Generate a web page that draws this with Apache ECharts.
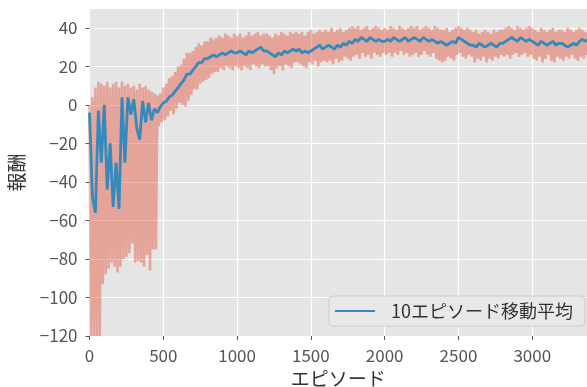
<!DOCTYPE html>
<html><head><meta charset="utf-8">
<script src="https://cdn.jsdelivr.net/npm/echarts@6/dist/echarts.min.js"></script>
<style>html,body{margin:0;padding:0;background:#fff}#c{width:587px;height:387px}</style>
</head><body><div id="c"></div>
<script>
// Episode bin width (each bin: one high and one low raw reward sample)
const STEP = 20;
// Raw reward upper envelope per 20-episode bin (episodes 0..3380)
const rawHigh = [
  0, 4, 9, 12, 11, 10, 12, 9, 11, 12,
  9, 12, 10, 11, 9, 10, 8, 11, 9, 10,
  8, 7, 6, 5, 6, 9, 11, 14, 15, 17,
  20, 21, 24, 27, 27, 28, 30, 32, 31, 33,
  33, 35, 34, 35, 36, 35, 37, 36, 35, 37,
  36, 37, 35, 36, 38, 36, 37, 38, 36, 37,
  37, 36, 35, 37, 36, 38, 37, 36, 38, 37,
  38, 37, 38, 36, 38, 39, 37, 38, 39, 38,
  39, 38, 40, 38, 39, 40, 38, 39, 40, 41,
  40, 41, 39, 40, 41, 39, 40, 41, 40, 39,
  40, 39, 41, 40, 39, 41, 40, 39, 40, 41,
  40, 41, 39, 40, 41, 40, 39, 41, 40, 39,
  39, 40, 38, 39, 40, 41, 40, 39, 40, 39,
  38, 39, 37, 38, 39, 38, 37, 39, 38, 39,
  39, 40, 41, 40, 39, 41, 40, 39, 40, 41,
  40, 39, 38, 40, 39, 38, 39, 40, 38, 39,
  39, 38, 40, 39, 38, 39, 40, 39, 38, 39
];
// Raw reward lower envelope per bin
const rawLow = [
  -120, -120, -120, -120, -93, -88, -85, -82, -84, -87,
  -84, -80, -79, -77, -72, -82, -81, -82, -84, -78,
  -86, -75, -75, -11, -9, -8, -6, -3, -5, -2,
  1, 0, -1, 2, 5, 8, 8, 11, 12, 13,
  14, 16, 17, 17, 19, 18, 20, 19, 18, 20,
  19, 18, 20, 19, 18, 21, 20, 19, 21, 20,
  20, 18, 16, 19, 20, 18, 21, 20, 19, 22,
  22, 21, 20, 19, 22, 21, 23, 20, 22, 23,
  22, 23, 21, 24, 22, 23, 25, 24, 23, 25,
  26, 24, 27, 25, 26, 24, 27, 26, 25, 27,
  26, 27, 25, 27, 26, 28, 26, 27, 25, 26,
  27, 25, 26, 28, 26, 25, 27, 24, 23, 22,
  23, 25, 24, 23, 26, 27, 25, 24, 26, 25,
  22, 24, 23, 25, 22, 24, 23, 25, 24, 26,
  25, 26, 24, 26, 27, 25, 26, 27, 25, 26,
  24, 23, 25, 22, 24, 26, 23, 22, 25, 24,
  23, 25, 24, 26, 24, 23, 25, 24, 26, 25
];
// 10-episode moving average per bin
const movingAvg = [
  -4, -48, -56, -3, -30, 0, -44, -20, -53, -30,
  -54, 4, -30, 4, -5, 3, -12, -18, 2, -9,
  1, -8, -2, -4, -1, 1, 2, 4, 5, 7,
  9, 11, 13, 16, 16, 18, 20, 22, 22, 24,
  24, 25, 26, 25, 26, 27, 26, 27, 28, 27,
  27, 28, 27, 26, 28, 27, 28, 29, 30, 28,
  28, 27, 26, 25, 27, 26, 28, 27, 28, 29,
  28, 29, 27, 28, 27, 28, 29, 30, 31, 29,
  30, 31, 30, 29, 31, 30, 32, 31, 33, 32,
  34, 33, 35, 34, 33, 35, 34, 33, 34, 33,
  33, 34, 33, 35, 34, 33, 34, 35, 33, 34,
  35, 34, 33, 35, 34, 33, 34, 33, 32, 33,
  32, 31, 32, 33, 32, 35, 34, 33, 32, 31,
  31, 30, 32, 31, 30, 31, 32, 31, 30, 32,
  32, 33, 34, 35, 34, 33, 35, 34, 33, 34,
  33, 32, 31, 33, 32, 31, 32, 33, 31, 32,
  32, 31, 30, 31, 32, 31, 33, 34, 33, 34
];
const xTicks = [0, 500, 1000, 1500, 2000, 2500, 3000];
const yTicks = [-120, -100, -80, -60, -40, -20, 0, 20, 40];
const seriesName = '10エピソード移動平均';
const xTitle = 'エピソード';
const yTitle = '報酬';

const rawData = [];
rawHigh.forEach((h, i) => {
  rawData.push([i * STEP, h]);
  rawData.push([i * STEP + STEP / 2, rawLow[i]]);
});
const maData = movingAvg.map((v, i) => [i * STEP, v]);

const FONT = '"Noto Sans CJK JP", "Noto Sans", sans-serif';
const chart = echarts.init(document.getElementById('c'), null, {renderer: 'canvas'});
chart.setOption({
  animation: false,
  backgroundColor: '#ffffff',
  grid: {left: 89.5, right: 0, top: 9, bottom: 51, show: true, backgroundColor: '#E5E5E5', borderWidth: 0,
         containLabel: false, outerBoundsMode: 'none'},
  xAxis: {
    type: 'value', min: 0, max: 3371, interval: 500,
    name: xTitle, nameLocation: 'middle', nameGap: 32,
    nameTextStyle: {fontFamily: FONT, fontSize: 19, color: '#333'},
    axisLine: {show: false, onZero: false},
    axisTick: {show: true, length: 4, lineStyle: {color: '#555'}, customValues: xTicks},
    axisLabel: {fontFamily: FONT, fontSize: 17, color: '#555', margin: 11, customValues: xTicks,
      formatter: v => (v % 500 === 0 ? String(v) : '')},
    splitLine: {show: true, lineStyle: {color: '#ffffff', width: 1.2}}
  },
  yAxis: {
    type: 'value', min: -120, max: 49.8, interval: 20,
    name: yTitle, nameLocation: 'middle', nameGap: 63, nameRotate: 90,
    nameTextStyle: {fontFamily: FONT, fontSize: 19, color: '#333'},
    axisLine: {show: false, onZero: false},
    axisTick: {show: true, length: 4, lineStyle: {color: '#555'}, customValues: yTicks},
    axisLabel: {fontFamily: FONT, fontSize: 17, color: '#555', margin: 12, customValues: yTicks,
      formatter: v => (v % 20 === 0 ? String(v).replace('-', '\u2212') : '')},
    splitLine: {show: true, lineStyle: {color: '#ffffff', width: 1.2}}
  },
  legend: {
    data: [seriesName], right: 2, top: 296,
    backgroundColor: '#E8E8E8', borderColor: '#CCCCCC', borderWidth: 1, borderRadius: 4,
    padding: [6, 12, 6, 6], itemWidth: 40, itemHeight: 2, icon: 'rect',
    textStyle: {fontFamily: FONT, fontSize: 18, color: '#333', padding: [0, 0, 0, 11]}
  },
  series: [
    {type: 'line', name: 'raw', data: rawData, showSymbol: false, symbol: 'none',
     lineStyle: {color: '#E24A33', width: 2.6, opacity: 0.42, join: 'miter'}, itemStyle: {color: '#E24A33'}, z: 2},
    {type: 'line', name: seriesName, data: maData, showSymbol: false, symbol: 'none',
     lineStyle: {color: '#348ABD', width: 2.8}, itemStyle: {color: '#348ABD'}, z: 3}
  ]
});
</script></body></html>
